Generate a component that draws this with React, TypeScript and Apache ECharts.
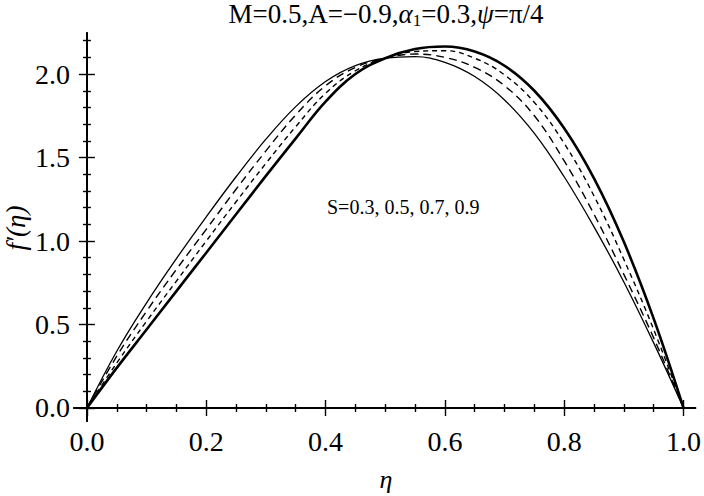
import React, { useEffect, useRef } from "react";
import * as echarts from "echarts";

const ETA = [0, 0.05, 0.1, 0.15, 0.2, 0.25, 0.3, 0.35, 0.4, 0.45, 0.5, 0.55, 0.6, 0.65, 0.7, 0.75, 0.8, 0.85, 0.9, 0.95, 1.0];
const S03 = [0, 0.34, 0.63, 0.895, 1.145, 1.385, 1.61, 1.805, 1.955, 2.05, 2.095, 2.105, 2.07, 1.985, 1.845, 1.645, 1.385, 1.085, 0.755, 0.39, 0];
const S05 = [0, 0.31, 0.58, 0.83, 1.07, 1.31, 1.54, 1.755, 1.93, 2.04, 2.095, 2.12, 2.1, 2.04, 1.93, 1.75, 1.48, 1.16, 0.8, 0.42, 0];
const S07 = [0, 0.27, 0.52, 0.76, 1.0, 1.235, 1.465, 1.685, 1.885, 2.02, 2.095, 2.135, 2.14, 2.095, 1.995, 1.83, 1.585, 1.27, 0.89, 0.47, 0];
const S09 = [0, 0.24, 0.47, 0.7, 0.93, 1.16, 1.39, 1.615, 1.835, 2.0, 2.095, 2.15, 2.165, 2.135, 2.05, 1.9, 1.675, 1.375, 0.995, 0.535, 0];

const X_TICKS = [0, 0.2, 0.4, 0.6, 0.8, 1.0];
const X_MINOR = [0.05, 0.1, 0.15, 0.25, 0.3, 0.35, 0.45, 0.5, 0.55, 0.65, 0.7, 0.75, 0.85, 0.9, 0.95];
const Y_TICKS = [0, 0.5, 1.0, 1.5, 2.0];
const Y_MINOR = [0.1, 0.2, 0.3, 0.4, 0.6, 0.7, 0.8, 0.9, 1.1, 1.2, 1.3, 1.4, 1.6, 1.7, 1.8, 1.9, 2.1, 2.2];

const TITLE = "M=0.5,A=\u22120.9,{i|\u03b1}{s|1}=0.3,{i|\u03c8}=\u03c0/4";
const ANNOT = "S=0.3, 0.5, 0.7, 0.9";

const FONT = "Liberation Serif";

export default function App() {
  const ref = useRef<HTMLDivElement>(null);
  useEffect(() => {
    if (!ref.current) return;
    const chart = echarts.init(ref.current, undefined, { renderer: "svg" });
    const XMIN = -0.0217, XMAX = 1.02, YMIN = -0.078, YMAX = 2.246;
    const line = { show: true, lineStyle: { color: "#000", width: 1.6 } };
    const mkX = (pos: string, vals: number[], len: number, labels: boolean) => ({
      type: "value", position: pos, min: XMIN, max: XMAX,
      splitLine: { show: false },
      axisLine: line,
      axisTick: { show: true, inside: true, length: len, customValues: vals, lineStyle: { color: "#000", width: 1.4 } },
      axisLabel: labels
        ? { show: true, customValues: X_TICKS, formatter: (v: number) => v.toFixed(1), color: "#000", fontFamily: FONT, fontSize: 28, margin: 6 }
        : { show: false },
    });
    const mkY = (pos: string, vals: number[], len: number, labels: boolean) => ({
      type: "value", position: pos, min: YMIN, max: YMAX,
      splitLine: { show: false },
      axisLine: line,
      axisTick: { show: true, inside: true, length: len, customValues: vals, lineStyle: { color: "#000", width: 1.4 } },
      axisLabel: labels
        ? { show: true, customValues: Y_TICKS, formatter: (v: number) => v.toFixed(1), color: "#000", fontFamily: FONT, fontSize: 28, margin: 4 }
        : { show: false },
    });
    const mkSeries = (vals: number[], width: number, type: any) => ({
      type: "line",
      xAxisIndex: 0,
      yAxisIndex: 0,
      data: ETA.map((x, i) => [x, vals[i]]),
      smooth: 0.4,
      showSymbol: false,
      lineStyle: { color: "#000", width, type },
    });
    chart.setOption({
      animation: false,
      backgroundColor: "#fff",
      grid: { left: 74, right: 5, top: 33, bottom: 75, containLabel: false },
      xAxis: [
        mkX("bottom", X_TICKS, 8, true),
        mkX("bottom", X_MINOR, 4, false),
        mkX("top", X_TICKS, 8, false),
        mkX("top", X_MINOR, 4, false),
      ],
      yAxis: [
        mkY("left", Y_TICKS, 8, true),
        mkY("left", Y_MINOR, 4, false),
        mkY("right", Y_TICKS, 8, false),
        mkY("right", Y_MINOR, 4, false),
      ],
      series: [
        mkSeries(S03, 1.3, "solid"),
        mkSeries(S05, 1.4, [8, 5]),
        mkSeries(S07, 1.4, [5, 4]),
        mkSeries(S09, 2.6, "solid"),
      ],
      graphic: [
        {
          type: "text", x: 386, y: 14,
          style: {
            text: TITLE, fill: "#000", fontFamily: FONT, fontSize: 27, lineHeight: 30,
            textAlign: "center", textVerticalAlign: "middle",
            rich: {
              i: { fontStyle: "italic", fontFamily: FONT, fontSize: 27, lineHeight: 30 },
              s: { fontFamily: FONT, fontSize: 17, lineHeight: 12, verticalAlign: "bottom" },
            },
          },
        },
        {
          type: "text", x: 327, y: 207,
          style: { text: ANNOT, fill: "#000", fontFamily: FONT, fontSize: 20, textAlign: "left", textVerticalAlign: "middle" },
        },
        {
          type: "text", x: 386, y: 479,
          style: { text: "\u03b7", fill: "#000", fontFamily: FONT, fontStyle: "italic", fontSize: 26, textAlign: "center", textVerticalAlign: "middle" },
        },
        {
          type: "text", x: 16, y: 228, rotation: Math.PI / 2,
          style: { text: "f\u2032(\u03b7)", fill: "#000", fontFamily: FONT, fontStyle: "italic", fontSize: 27, textAlign: "center", textVerticalAlign: "middle" },
        },
      ],
    });
    return () => chart.dispose();
  }, []);
  return <div ref={ref} style={{ width: 704, height: 496, position: "absolute", left: 0, top: 0 }} />;
}
